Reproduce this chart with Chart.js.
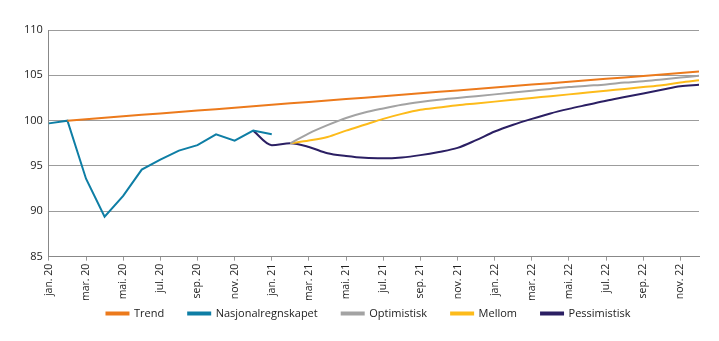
<!DOCTYPE html>
<html>
<head>
<meta charset="utf-8">
<script src="https://cdn.jsdelivr.net/npm/chart.js@4"></script>
<style>
  body { margin: 0; background: #fff; }
  #wrap { width: 719px; height: 341px; }
</style>
</head>
<body>
<div id="wrap"><canvas id="chart"></canvas></div>
<script>
// months jan.20 - des.22
const months = [
  'jan. 20', 'feb. 20', 'mar. 20', 'apr. 20', 'mai. 20', 'jun. 20', 'jul. 20', 'aug. 20', 'sep. 20', 'okt. 20', 'nov. 20', 'des. 20',
  'jan. 21', 'feb. 21', 'mar. 21', 'apr. 21', 'mai. 21', 'jun. 21', 'jul. 21', 'aug. 21', 'sep. 21', 'okt. 21', 'nov. 21', 'des. 21',
  'jan. 22', 'feb. 22', 'mar. 22', 'apr. 22', 'mai. 22', 'jun. 22', 'jul. 22', 'aug. 22', 'sep. 22', 'okt. 22', 'nov. 22', 'des. 22'
];

const trend = [null,
  100.00, 100.16, 100.32, 100.48, 100.64, 100.80, 100.95, 101.11, 101.27, 101.43, 101.59,
  101.75, 101.91, 102.07, 102.23, 102.39, 102.54, 102.70, 102.86, 103.02, 103.18, 103.34, 103.50,
  103.66, 103.82, 103.98, 104.13, 104.29, 104.45, 104.61, 104.77, 104.93, 105.09, 105.25, 105.41];

const nasjonalregnskapet = [
  99.7, 100.0, 93.6, 89.4, 91.7, 94.6, 95.7, 96.7, 97.3, 98.5, 97.8, 98.9,
  98.5];

const optimistisk = [null, null, null, null, null, null, null, null, null, null, null, null,
  null, 97.5, 98.6, 99.5, 100.3, 100.9, 101.35, 101.75, 102.05, 102.3, 102.5, 102.7,
  102.9, 103.1, 103.3, 103.5, 103.7, 103.85, 104.0, 104.2, 104.35, 104.55, 104.75, 104.95];

const mellom = [null, null, null, null, null, null, null, null, null, null, null, null,
  null, 97.5, 97.8, 98.2, 98.9, 99.55, 100.2, 100.75, 101.2, 101.45, 101.7, 101.9,
  102.1, 102.3, 102.5, 102.7, 102.9, 103.1, 103.3, 103.5, 103.7, 103.9, 104.2, 104.45];

const pessimistisk = [null, null, null, null, null, null, null, null, null, null, null, 98.9,
  97.3, 97.5, 97.1, 96.4, 96.1, 95.9, 95.85, 95.95, 96.2, 96.55, 97.0, 97.85,
  98.8, 99.55, 100.2, 100.8, 101.3, 101.75, 102.2, 102.6, 103.0, 103.4, 103.8, 103.95];

const yTicks = [85, 90, 95, 100, 105, 110];

const font = { family: "'Open Sans', sans-serif", size: 11 };

function line(label, data, color, smooth) {
  return {
    label: label,
    data: data,
    borderColor: color,
    backgroundColor: color,
    borderWidth: 2,
    pointRadius: 0,
    spanGaps: false,
    cubicInterpolationMode: smooth ? 'monotone' : 'default',
    tension: 0
  };
}

// legend: keep wide spacing between items but a low box, and lift it a bit
const legendFit = {
  id: 'legendFit',
  beforeInit(chart) {
    const fit = chart.legend.fit;
    chart.legend.fit = function () {
      fit.call(this);
      this.height = 37;
    };
  },
  afterLayout(chart) {
    const lg = chart.legend;
    lg.top -= 20;
    lg.bottom -= 20;
    lg.left += 10;
    lg.right += 10;
  }
};

new Chart(document.getElementById('chart'), {
  type: 'line',
  data: {
    labels: months,
    datasets: [
      line('Trend', trend, '#ec7a1c', false),
      line('Nasjonalregnskapet', nasjonalregnskapet, '#0e7ea5', false),
      line('Optimistisk', optimistisk, '#a3a3a3', true),
      line('Mellom', mellom, '#fdbb1a', true),
      line('Pessimistisk', pessimistisk, '#2b1f63', true)
    ]
  },
  plugins: [legendFit],
  options: {
    responsive: true,
    maintainAspectRatio: false,
    animation: false,
    layout: { padding: { left: 18, right: 20, top: 30, bottom: 0 } },
    plugins: {
      tooltip: { enabled: false },
      legend: {
        position: 'bottom',
        labels: {
          color: '#222',
          font: font,
          boxWidth: 22,
          boxHeight: 2,
          padding: 24
        }
      }
    },
    scales: {
      x: {
        offset: false,
        grid: { display: true, drawOnChartArea: false, tickLength: 4, color: '#999' },
        border: { display: true, color: '#888' },
        ticks: {
          color: '#222',
          font: { family: font.family, size: 10.5 },
          autoSkip: false,
          maxRotation: 90,
          minRotation: 90,
          padding: 3,
          callback: function (value, index) {
            return index % 2 === 0 ? months[index] : null;
          }
        }
      },
      y: {
        min: yTicks[0],
        max: yTicks[yTicks.length - 1],
        afterBuildTicks: function (axis) {
          axis.ticks = yTicks.map(v => ({ value: v }));
        },
        grid: { color: '#9c9c9c', drawTicks: false },
        border: { display: true, color: '#888' },
        ticks: { color: '#222', font: font, padding: 6 }
      }
    }
  }
});
</script>
</body>
</html>
